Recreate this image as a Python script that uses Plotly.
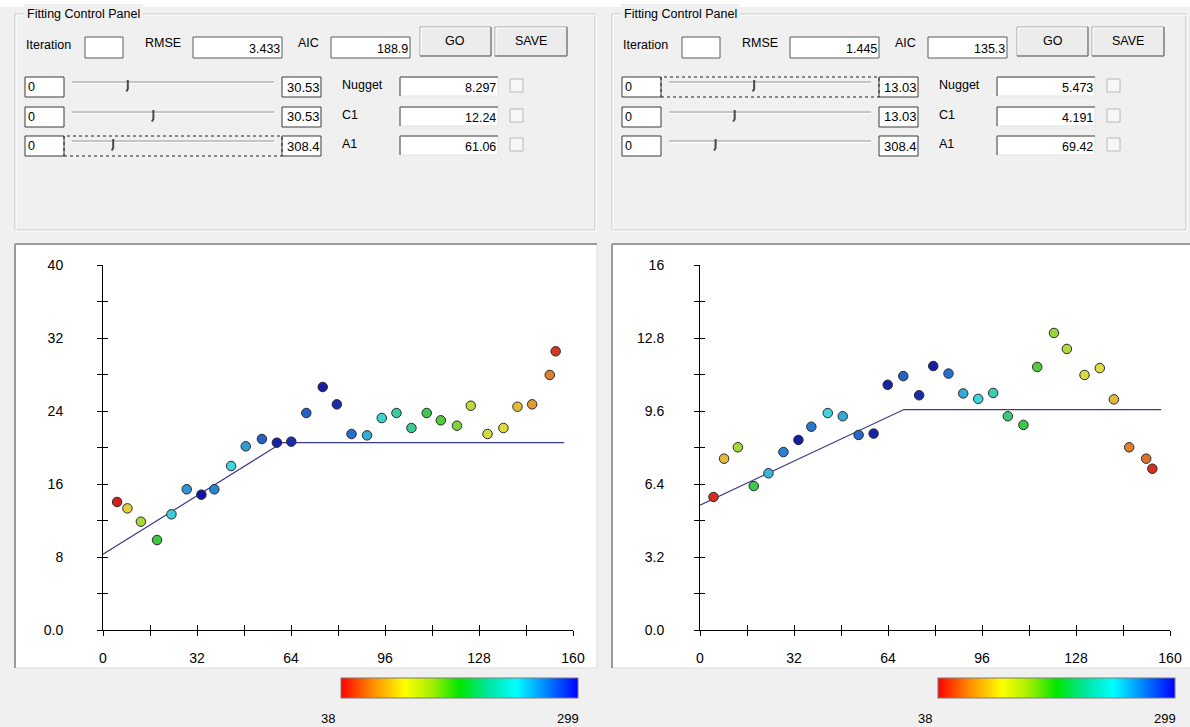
import plotly.graph_objects as go

W, H = 1190, 727
FONT = "Liberation Sans, Arial, sans-serif"

# ---------------- data ----------------
lag_left = [4.8, 8.3, 12.9, 18.4, 23.3, 28.5, 33.5, 37.9, 43.6, 48.6, 54.1, 59.2, 64.1, 69.2, 74.8, 79.6,
            84.6, 89.9, 94.9, 99.9, 105.0, 110.2, 115.0, 120.5, 125.2, 130.9, 136.3, 141.1, 146.1, 152.1, 154.1]
gamma_left = [14.03, 13.33, 11.87, 9.86, 12.68, 15.42, 14.83, 15.42, 17.97, 20.13, 20.93, 20.53, 20.64, 23.78,
              26.63, 24.73, 21.48, 21.33, 23.23, 23.78, 22.14, 23.78, 22.98, 22.39, 24.58, 21.48, 22.14, 24.47,
              24.73, 27.95, 30.54]
pairs_left = [38, 103, 137, 168, 234, 255, 299, 260, 231, 252, 273, 294, 291, 273, 296, 291,
              268, 247, 226, 200, 195, 174, 163, 148, 127, 116, 111, 95, 80, 69, 46]

lag_right = [4.6, 8.2, 12.9, 18.3, 23.3, 28.4, 33.5, 37.9, 43.5, 48.6, 54.0, 59.1, 63.9, 69.2, 74.6, 79.4,
             84.6, 89.6, 94.7, 99.8, 104.8, 110.1, 114.8, 120.5, 124.9, 130.9, 136.1, 140.9, 146.1, 151.9, 154.0]
gamma_right = [5.83, 7.51, 8.01, 6.31, 6.87, 7.80, 8.33, 8.91, 9.51, 9.37, 8.55, 8.61, 10.75, 11.13, 10.29, 11.57,
               11.24, 10.37, 10.13, 10.39, 9.37, 8.99, 11.53, 13.02, 12.32, 11.18, 11.48, 10.11, 8.01, 7.51, 7.07]
pairs_right = [43, 95, 137, 174, 242, 262, 296, 265, 231, 247, 270, 294, 294, 273, 291, 296,
               268, 247, 231, 210, 189, 174, 161, 142, 132, 114, 111, 93, 69, 64, 43]

model_left_x = [0, 61.06, 157]
model_left_y = [8.297, 20.537, 20.537]
model_right_x = [0, 69.42, 157]
model_right_y = [5.473, 9.664, 9.664]

x_tickvals = [0, 16, 32, 48, 64, 80, 96, 112, 128, 144, 160]
x_ticktext = ["0", "", "32", "", "64", "", "96", "", "128", "", "160"]
y_left_tickvals = [0, 4, 8, 12, 16, 20, 24, 28, 32, 36, 40]
y_left_ticktext = ["0.0", "", "8", "", "16", "", "24", "", "32", "", "40"]
y_right_tickvals = [0, 1.6, 3.2, 4.8, 6.4, 8.0, 9.6, 11.2, 12.8, 14.4, 16]
y_right_ticktext = ["0.0", "", "3.2", "", "6.4", "", "9.6", "", "12.8", "", "16"]

color_min, color_max = 38, 299
panel_title = "Fitting Control Panel"
rmse_values = ["3.433", "1.445"]
aic_values = ["188.9", "135.3"]
param_names = ["Nugget", "C1", "A1"]
param_values = [[8.297, 12.24, 61.06], [5.473, 4.191, 69.42]]
param_text = [["8.297", "12.24", "61.06"], ["5.473", "4.191", "69.42"]]
slider_min = ["0", "0", "0"]
slider_max_text = [["30.53", "30.53", "308.4"], ["13.03", "13.03", "308.4"]]
slider_max_val = [[30.53, 30.53, 308.4], [13.03, 13.03, 308.4]]
focus_row = [2, 0]

# ---------------- styles ----------------
bar_scale = [[0, "#ff0000"], [0.13, "#ff8a00"], [0.27, "#ffff00"], [0.38, "#a8f000"], [0.5, "#00e600"],
             [0.62, "#00e6a0"], [0.74, "#00ffff"], [0.87, "#0080ff"], [1, "#0000ff"]]
marker_scale = [[0, "#d21e1e"], [0.13, "#e0882c"], [0.27, "#e4dc40"], [0.38, "#a6d83c"], [0.5, "#3cc83c"],
                [0.62, "#3cc8a0"], [0.74, "#40d4dc"], [0.87, "#2878d2"], [1, "#1414a0"]]


def px(x):
    return x / W


def py(y):
    return 1 - y / H


shapes = []
anns = []


def rect(x0, y0, x1, y1, fill=None, line=None, lw=1, dash=None):
    shapes.append(dict(type="rect", xref="paper", yref="paper", x0=px(x0), x1=px(x1), y0=py(y1), y1=py(y0),
                       fillcolor=fill if fill else "rgba(0,0,0,0)",
                       line=dict(color=line if line else "rgba(0,0,0,0)", width=lw if line else 0,
                                 dash=dash if dash else "solid"),
                       layer="below"))


def seg(x0, y0, x1, y1, color, lw=1):
    shapes.append(dict(type="line", xref="paper", yref="paper", x0=px(x0), x1=px(x1), y0=py(y0), y1=py(y1),
                       line=dict(color=color, width=lw), layer="below"))


def path(points, color, lw=1):
    d = "M " + " L ".join(f"{px(a):.5f},{py(b):.5f}" for a, b in points)
    shapes.append(dict(type="path", xref="paper", yref="paper", path=d, line=dict(color=color, width=lw),
                       layer="below"))


def text(x, y, s, anchor="left", size=12.5, bg=None, pad=0):
    anns.append(dict(x=px(x), y=py(y), xref="paper", yref="paper", text=s, showarrow=False, xanchor=anchor,
                     yanchor="middle", font=dict(family=FONT, size=size, color="black"),
                     bgcolor=bg if bg else "rgba(0,0,0,0)", borderpad=pad, borderwidth=0))


def sunken(x0, y0, x1, y1):
    rect(x0, y0, x1, y1, fill="white", line="#e3e3e3")
    seg(x0, y0, x1, y0, "#7a7a7a", 1.5)
    seg(x0, y0, x0, y1, "#7a7a7a", 1.5)


def button(x0, y0, x1, y1, label):
    rect(x0, y0, x1, y1, fill="#ececec", line="#a0a0a0")
    seg(x0 + 1, y0 + 1, x1 - 1, y0 + 1, "white", 1)
    seg(x0 + 1, y0 + 1, x0 + 1, y1 - 1, "white", 1)
    seg(x0, y1, x1, y1, "#6a6a6a", 1)
    seg(x1, y0, x1, y1, "#6a6a6a", 1)
    text((x0 + x1) / 2, (y0 + y1) / 2 - 1, label, anchor="center", size=12.5)


# background strip at top
rect(0, 0, W, 7, fill="white")

for k, dx in enumerate([0, 597]):
    # group box
    right = min(595 + dx, 1186)
    rect(15 + dx, 14, right, 230, line="#c0c0c0")
    rect(16 + dx, 15, right + 1, 231, line="white")
    text(24 + dx, 14, panel_title, bg="#f0f0f0", pad=3)

    # top row
    text(26 + dx, 45, "Iteration")
    rect(85 + dx, 37, 123 + dx, 58, fill="white", line="#5a5a5a")
    text(145 + dx, 43, "RMSE")
    rect(193 + dx, 37, 282 + dx, 58, fill="white", line="#5a5a5a")
    text(280 + dx, 49, rmse_values[k], anchor="right")
    text(298 + dx, 43, "AIC")
    rect(331 + dx, 37, 410 + dx, 58, fill="white", line="#5a5a5a")
    text(408 + dx, 49, aic_values[k], anchor="right")
    button(420 + dx, 27, 491 + dx, 56, "GO")
    button(495 + dx, 27, 567 + dx, 56, "SAVE")

    # slider rows
    for r, top in enumerate([77, 107, 136]):
        rect(25 + dx, top, 64 + dx, top + 20, fill="white", line="#3a3a3a")
        text(28 + dx, top + 10, slider_min[r])
        t0, t1 = 72 + dx, 274 + dx
        ty = top + 5
        seg(t0, ty, t1, ty, "#9a9a9a", 1.2)
        seg(t0, ty + 1.5, t1, ty + 1.5, "white", 1)
        tx = t0 + 2 + param_values[k][r] / slider_max_val[k][r] * (t1 - t0 - 4)
        path([(tx, ty - 2), (tx, ty + 7), (tx - 1.5, ty + 9.5)], "#4a4a4a", 2)
        rect(282 + dx, top, 321 + dx, top + 20, fill="white", line="#3a3a3a")
        text(319.5 + dx, top + 10, slider_max_text[k][r], anchor="right", size=13)
        text(342 + dx, top + 8, param_names[r])
        sunken(400 + dx, top, 498 + dx, top + 19)
        text(496 + dx, top + 11, param_text[k][r], anchor="right")
        rect(510 + dx, top + 2, 523 + dx, top + 15, fill="#f7f7f7", line="#b8b8b8")
        if r == focus_row[k]:
            rect(64 + dx, top, 282 + dx, top + 20, line="#222222", dash="dot")

    # plot panel
    pr = min(597 + dx, W + 2)
    rect(15 + dx, 244, pr, 668, fill="white", line="#dcdcdc")
    seg(15 + dx, 244, pr, 244, "#9a9a9a", 2)
    seg(15 + dx, 244, 15 + dx, 668, "#9a9a9a", 2)

    # colour bar labels
    text(328 + dx, 718, str(color_min), anchor="center", size=13)
    text(568 + dx, 718, str(color_max), anchor="center", size=13)

fig = go.Figure()

datasets = [
    (lag_left, gamma_left, pairs_left, model_left_x, model_left_y, "x", "y", "x3", "y3"),
    (lag_right, gamma_right, pairs_right, model_right_x, model_right_y, "x2", "y2", "x4", "y4"),
]
for k, (lx, gy, pr_, mx, my, xa, ya, xo, yo) in enumerate(datasets):
    dx = 597 * k
    fig.add_trace(go.Scatter(x=mx, y=my, mode="lines", xaxis=xa, yaxis=ya,
                             line=dict(color="#3a3a8a", width=1.2), hoverinfo="skip", showlegend=False))
    fig.add_trace(go.Scatter(x=lx, y=gy, mode="markers", xaxis=xa, yaxis=ya, showlegend=False,
                             marker=dict(size=9.5, color=pr_, colorscale=marker_scale, cmin=color_min,
                                         cmax=color_max, showscale=False,
                                         line=dict(color="#2a2a2a", width=1))))
    fig.add_trace(go.Scatter(x=lx, y=gy, mode="markers", xaxis=xo, yaxis=yo, showlegend=False,
                             hoverinfo="skip",
                             marker=dict(size=1, opacity=0, color=pr_, colorscale=bar_scale, cmin=color_min,
                                         cmax=color_max, showscale=True,
                                         colorbar=dict(orientation="h", x=px(341 + dx), xanchor="left",
                                                       y=py(678), yanchor="top", len=237, lenmode="pixels",
                                                       thickness=20, thicknessmode="pixels", xpad=0, ypad=0,
                                                       outlinewidth=1, outlinecolor="#7a7a7a",
                                                       ticks="", showticklabels=False))))

ydom = [py(630), py(265)]
tickfont = dict(family=FONT, size=14, color="black")


def xcfg(dom):
    return dict(domain=dom, range=[0, 160], autorange=False, tickmode="array", tickvals=x_tickvals,
                ticktext=x_ticktext, ticks="outside", ticklen=5, tickwidth=1, tickcolor="black",
                showline=True, linecolor="black", linewidth=1, showgrid=False, zeroline=False,
                tickfont=tickfont, ticklabelstandoff=10, fixedrange=True)


def ycfg(rng, tv, tt, standoff):
    return dict(domain=ydom, range=rng, autorange=False, tickmode="array", tickvals=tv, ticktext=tt,
                ticks="outside", ticklen=5, tickwidth=1, tickcolor="black", showline=True, linecolor="black",
                linewidth=1, showgrid=False, zeroline=False, tickfont=tickfont, ticklabelstandoff=standoff,
                fixedrange=True)


def xover(base, anchor):
    return dict(overlaying=base, anchor=anchor, side="bottom", range=[0, 160], autorange=False,
                tickmode="array", tickvals=x_tickvals, ticks="inside", ticklen=5, tickwidth=1,
                tickcolor="black", showticklabels=False, showline=False, showgrid=False, zeroline=False,
                fixedrange=True)


def yover(base, anchor, rng, tv):
    return dict(overlaying=base, anchor=anchor, side="left", range=rng, autorange=False, tickmode="array",
                tickvals=tv, ticks="inside", ticklen=5, tickwidth=1, tickcolor="black",
                showticklabels=False, showline=False, showgrid=False, zeroline=False, fixedrange=True)


fig.update_layout(
    width=W, height=H, margin=dict(l=0, r=0, t=0, b=0, autoexpand=False),
    paper_bgcolor="#f0f0f0", plot_bgcolor="rgba(0,0,0,0)",
    showlegend=False,
    xaxis=dict(xcfg([px(103), px(573)]), anchor="y", automargin=False),
    yaxis=dict(ycfg([0, 40], y_left_tickvals, y_left_ticktext, 31), anchor="x", automargin=False),
    xaxis2=dict(xcfg([px(700), px(1170)]), anchor="y2", automargin=False),
    yaxis2=dict(ycfg([0, 16], y_right_tickvals, y_right_ticktext, 27), anchor="x2", automargin=False),
    xaxis3=xover("x", "y3"),
    yaxis3=yover("y", "x3", [0, 40], y_left_tickvals),
    xaxis4=xover("x2", "y4"),
    yaxis4=yover("y2", "x4", [0, 16], y_right_tickvals),
    shapes=shapes,
    annotations=anns,
    font=dict(family=FONT),
)

fig.write_html("out.html", config={"displayModeBar": False},
               post_script="document.body.style.margin='0px';document.body.style.overflow='hidden';")
